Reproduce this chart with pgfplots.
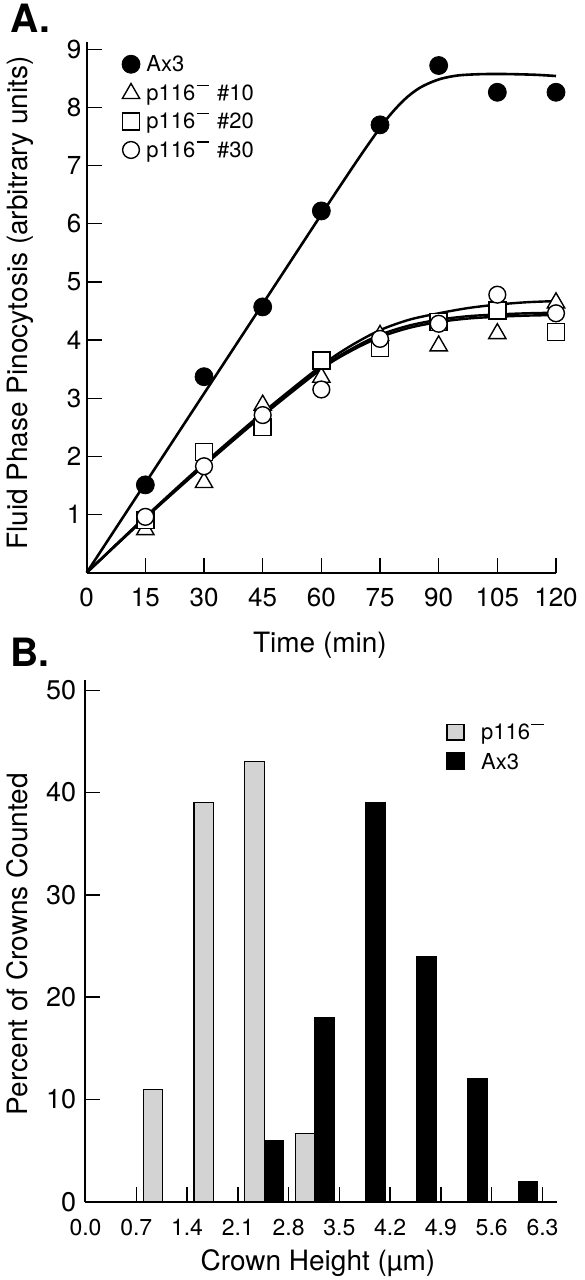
\documentclass[border=0pt]{standalone}
\usepackage{fontspec}
\setmainfont{TeX Gyre Heros}
\usepackage{pgfplots}
\pgfplotsset{compat=1.18}
\definecolor{bargray}{RGB}{211,211,211}
\newcommand{\pminus}{\kern0.06em\raisebox{0.66em}{\rule{0.55em}{0.07em}}\kern0.1em}
\newcommand{\lfa}{\fontsize{11}{11}\selectfont}
\newcommand{\lfb}{\fontsize{11}{11}\selectfont}
\begin{document}
\begin{tikzpicture}
\useasboundingbox (0,0) rectangle (292pt,640pt);
\node[anchor=base west, font=\fontsize{19.5}{20}\selectfont\bfseries, inner sep=0pt] at (5pt,623.5pt) {A.};
\node[anchor=base west, font=\fontsize{19.5}{20}\selectfont\bfseries, inner sep=0pt] at (5pt,306.5pt) {B.};
% ---------------- Panel A ----------------
\begin{axis}[
  at={(43.35pt,353.65pt)}, anchor=south west,
  scale only axis, width=234.65pt, height=265.5pt,
  xmin=0, xmax=120, ymin=0, ymax=9.13,
  clip=false,
  axis lines=left, axis line style={-, line width=1pt},
  tick align=inside, major tick length=7.5pt,
  tick style={line width=0.7pt, black},
  xtick={0,15,30,45,60,75,90,105,120}, ytick={1,2,3,4,5,6,7,8,9},
  /pgf/number format/assume math mode=true,
  tick label style={font=\fontsize{13}{13}\selectfont, inner sep=0pt},
  xticklabel style={yshift=-7.5pt},
  yticklabel style={xshift=-2.5pt},
  xlabel={Time (min)}, ylabel={Fluid Phase Pinocytosis (arbitrary units)},
  label style={font=\fontsize{14}{14}\selectfont, inner sep=0pt},
  xlabel style={at={(axis description cs:0.497,-0.1512)}, anchor=base},
  ylabel style={at={(axis description cs:-0.1272,0.508)}, anchor=base},
]
% fitted curves
\addplot[smooth, tension=0.5, line width=1.3pt] coordinates {
 (0,0) (15,1.54) (30,3.08) (45,4.62) (60,6.16) (66,6.77) (70,7.17) (73,7.46)
 (76,7.74) (79,7.98) (82,8.18) (85,8.33) (88,8.43) (91,8.50) (95,8.55)
 (100,8.57) (105,8.575) (110,8.57) (115,8.56) (120,8.54)};
\addplot[smooth, tension=0.5, line width=1.2pt] coordinates {
 (0,0) (15,0.96) (30,1.88) (45,2.75) (60,3.56) (67.5,3.90) (75,4.17) (82.5,4.35)
 (90,4.46) (97.5,4.55) (105,4.61) (112.5,4.65) (120,4.67)};
\addplot[smooth, tension=0.5, line width=1.2pt] coordinates {
 (0,0) (15,0.95) (30,1.85) (45,2.72) (60,3.52) (67.5,3.84) (75,4.09) (82.5,4.25)
 (90,4.35) (97.5,4.41) (105,4.44) (112.5,4.46) (120,4.47)};
\addplot[smooth, tension=0.5, line width=1.2pt] coordinates {
 (0,0) (15,0.94) (30,1.84) (45,2.70) (60,3.50) (67.5,3.81) (75,4.05) (82.5,4.21)
 (90,4.31) (97.5,4.37) (105,4.40) (112.5,4.42) (120,4.43)};
% data points (first point of each series = legend key)
\addplot[only marks, mark=*, mark size=4.5pt, black, mark options={fill=black}] coordinates {
 (11.33,8.742)
 (15,1.51) (30,3.37) (45,4.57) (60,6.22) (75,7.70) (90,8.72) (105,8.26) (120,8.26)};
\addplot[only marks, mark=triangle*, mark size=5pt, black, mark options={fill=white, line width=0.7pt}] coordinates {
 (11.33,8.239)
 (15,0.74) (30,1.55) (45,2.88) (60,3.36) (75,4.08) (90,3.90) (105,4.11) (120,4.64)};
\addplot[only marks, mark=square*, mark size=4.25pt, black, mark options={fill=white, line width=0.7pt}] coordinates {
 (11.33,7.758)
 (15,0.91) (30,2.07) (45,2.50) (60,3.65) (75,3.86) (90,4.31) (105,4.51) (120,4.14)};
\addplot[only marks, mark=*, mark size=4.2pt, black, mark options={fill=white, line width=0.7pt}] coordinates {
 (11.33,7.268)
 (15,0.96) (30,1.83) (45,2.71) (60,3.15) (75,4.02) (90,4.28) (105,4.78) (120,4.46)};
\node[anchor=base west, inner sep=0pt, font=\lfa] at (axis cs:15.16,8.614) {Ax3};
\node[anchor=base west, inner sep=0pt, font=\lfa] at (axis cs:15.16,8.112) {p116\pminus\ \#10};
\node[anchor=base west, inner sep=0pt, font=\lfa] at (axis cs:15.16,7.631) {p116\pminus\ \#20};
\node[anchor=base west, inner sep=0pt, font=\lfa] at (axis cs:15.16,7.141) {p116\pminus\ \#30};
\end{axis}
% ---------------- Panel B ----------------
\begin{axis}[
  at={(42.75pt,39.15pt)}, anchor=south west,
  scale only axis, width=235.75pt, height=260.85pt,
  xmin=0, xmax=6.5, ymin=0, ymax=51,
  axis lines=left, axis line style={-, line width=1pt},
  tick align=inside, major tick length=7.5pt,
  tick style={line width=0.7pt, black},
  xtick={0,0.7,1.4,2.1,2.8,3.5,4.2,4.9,5.6,6.3},
  xticklabels={0.0,0.7,1.4,2.1,2.8,3.5,4.2,4.9,5.6,6.3},
  ytick={0,10,20,30,40,50},
  /pgf/number format/assume math mode=true,
  yticklabel style={font=\fontsize{13.5}{13.5}\selectfont, inner sep=0pt, xshift=-4.5pt},
  xticklabel style={font=\fontsize{11.5}{11.5}\selectfont, inner sep=0pt, yshift=-8.5pt},
  xlabel={Crown Height (µm)}, ylabel={Percent of Crowns Counted},
  label style={font=\fontsize{14}{14}\selectfont, inner sep=0pt},
  xlabel style={at={(axis description cs:0.493,-0.131)}, anchor=base},
  ylabel style={at={(axis description cs:-0.122,0.494)}, anchor=base},
]
\addplot[ybar, bar width=0.27, bar shift=0pt, fill=bargray, draw=black, line width=0.6pt]
  coordinates {(0.93,11) (1.63,39) (2.33,43) (3.03,6.7)};
\addplot[ybar, bar width=0.27, bar shift=0pt, fill=black, draw=black, line width=0.6pt]
  coordinates {(2.60,6) (3.30,18) (4.00,39) (4.70,24) (5.40,12) (6.10,2)};
% legend keys
\addplot[fill=bargray, draw=black, line width=0.6pt] coordinates
  {(4.983,45.14) (5.218,45.14) (5.218,46.65) (4.983,46.65)} -- cycle;
\addplot[fill=black, draw=black, line width=0.6pt] coordinates
  {(4.983,42.27) (5.218,42.27) (5.218,43.89) (4.983,43.89)} -- cycle;
\node[anchor=base west, inner sep=0pt, font=\lfb] at (axis cs:5.45,45.14) {p116\pminus};
\node[anchor=base west, inner sep=0pt, font=\lfb] at (axis cs:5.45,42.27) {Ax3};
\end{axis}
\end{tikzpicture}
\end{document}
